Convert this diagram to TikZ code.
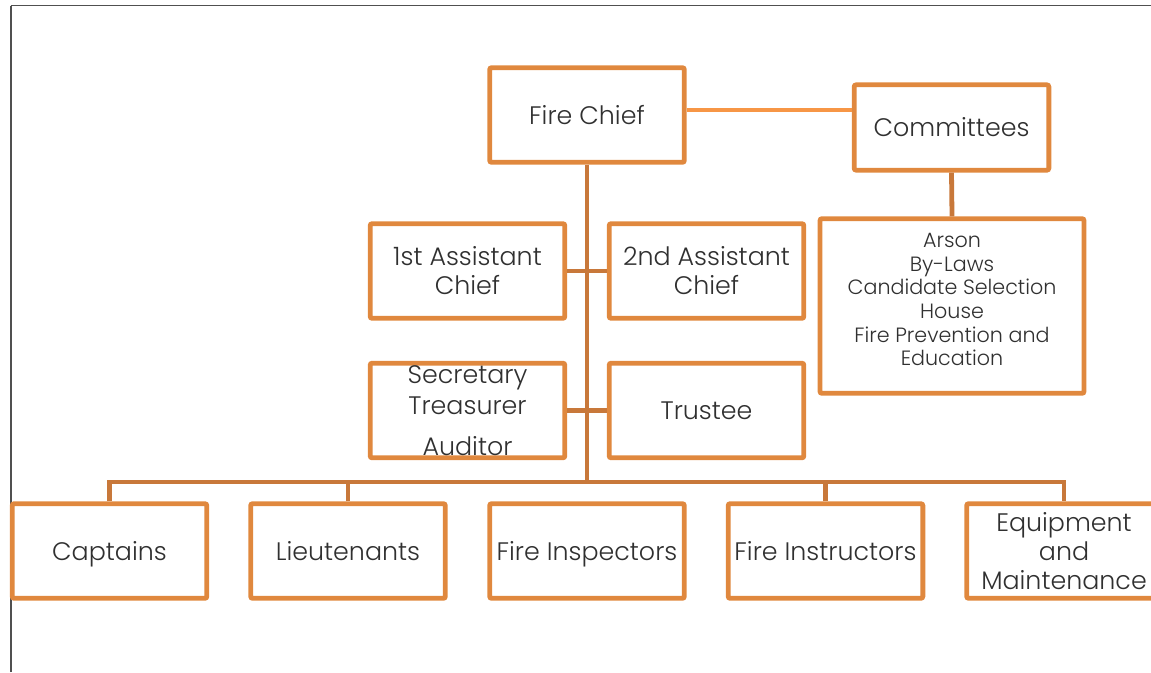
\documentclass[tikz,border=0pt]{standalone}
\usepackage{fontspec}
\setmainfont{Poppins}[UprightFont=* Light]
\usepackage{xcolor}
\usetikzlibrary{positioning}

\definecolor{boxorange}{HTML}{E0883E}
\definecolor{linkorange}{HTML}{C8783A}
\definecolor{tieorange}{HTML}{F79646}
\definecolor{textgray}{HTML}{303030}
\definecolor{framegray}{HTML}{505050}

\tikzset{
  unit/.style={draw=boxorange,line width=3.6pt,rounded corners=1.5pt,fill=white,
    text=textgray,align=center,inner sep=1pt,
    minimum width=146pt,minimum height=71pt,
    text height=13.5pt,text depth=0pt,
    font=\fontsize{19}{21.5}\selectfont},
  % last baseline below the centre of the box
  lines/.style={text height=#1,text depth=0pt},
  link/.style={draw=linkorange,line width=3.6pt},
}

\begin{document}
\begin{tikzpicture}[x=0.75pt,y=-0.75pt]
  \clip (0,0) rectangle (1151,672);
  % page edge
  \draw[framegray,line width=1.5pt] (10.5,672) -- (10.5,5.5);
  \draw[framegray,line width=1pt] (10.5,5.5) -- (1151,5.5);

  % Nodes
  \node[unit] (chief) at (587,115) {Fire Chief};
  \node[unit,minimum height=64pt] (cttee) at (951.5,127.5) {Committees};
  \node[unit,minimum width=198pt,minimum height=131pt,lines=89.6pt,
    font=\fontsize{15.5}{17.7}\selectfont] (list) at (952,306)
    {Arson\\By-Laws\\Candidate Selection\\House\\Fire Prevention and\\Education};
  \node[unit,lines=35pt] (asst1) at (467.5,271) {1st Assistant\\Chief};
  \node[unit,lines=35pt] (asst2) at (706.5,271) {2nd Assistant\\Chief};
  \node[unit,lines=66.8pt] (secy) at (467.5,410.5)
    {Secretary\\[1.5pt]Treasurer\\[9.25pt]Auditor};
  \node[unit] (trustee) at (706.5,410.5) {Trustee};
  \node[unit] (capt) at (109.5,551) {Captains};
  \node[unit] (lieut) at (348,551) {Lieutenants};
  \node[unit] (insp) at (587,551) {Fire Inspectors};
  \node[unit] (instr) at (825.5,551) {Fire Instructors};
  \node[unit,lines=57.4pt] (equip) at (1064,551) {Equipment\\and\\Maintenance};

  \coordinate (bus) at (587,482);
  \coordinate (tie) at ([yshift=3.75pt]chief.east);

  % Edges
  \draw[draw=tieorange,line width=3pt] (tie) -- (tie -| cttee.west);
  \draw[link] (cttee.south) -- (list.north);
  \draw[link] (chief.south) -- (bus);
  \draw[link] (asst1.east) -- (asst2.west);
  \draw[link] (secy.east) -- (trustee.west);
  \draw[link] (capt.north) |- (bus) -| (equip.north);
  \draw[link] (lieut.north) -- (lieut.north |- bus);
  \draw[link] (instr.north) -- (instr.north |- bus);
\end{tikzpicture}
\end{document}
